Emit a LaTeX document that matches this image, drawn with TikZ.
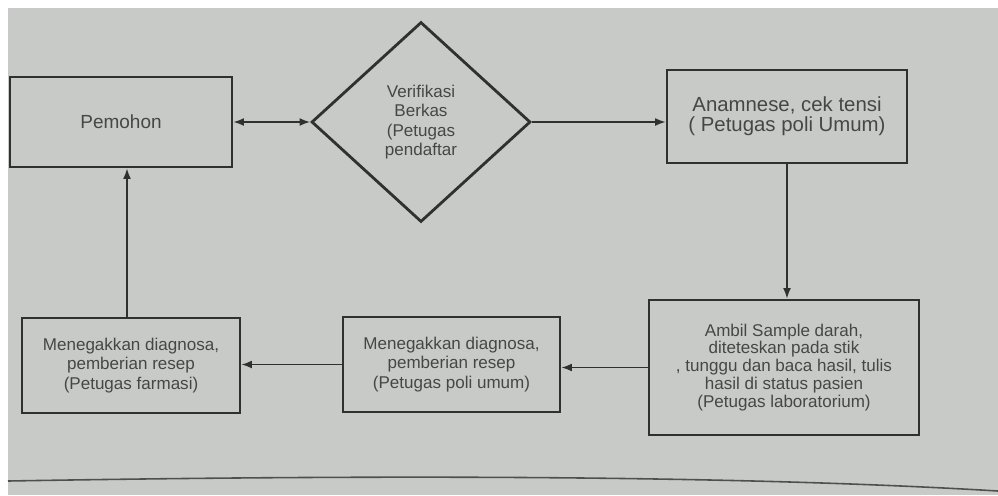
\documentclass[tikz,border=0pt]{standalone}
\usepackage{fontspec}
\setmainfont{Liberation Sans}
\usetikzlibrary{shapes.geometric,arrows.meta}
\definecolor{bg}{RGB}{200,202,200}
\definecolor{ln}{RGB}{48,48,48}
\definecolor{tx}{RGB}{70,70,70}
\begin{document}
\begin{tikzpicture}[x=0.02cm,y=-0.02cm,
  box/.style={draw=ln, line width=1.6pt, rectangle, inner sep=0pt, align=center, text=tx},
  dia/.style={draw=ln, line width=1.6pt, diamond, inner sep=0pt, align=center, text=tx},
  con/.style={draw=ln, line width=0.9pt, -{Latex[length=6pt,width=4.5pt]}},
  bicon/.style={draw=ln, line width=0.9pt, {Latex[length=6pt,width=4.5pt]}-{Latex[length=6pt,width=4.5pt]}},
  small/.style={font=\fontsize{9.7}{10.9}\selectfont},
]
\useasboundingbox (0,0) rectangle (998,495);
\fill[white] (0,0) rectangle (998,495);
\fill[bg] (8,8) rectangle (998,495);
\draw[ln!85, line width=0.9pt] (8,481) .. controls (300,476) and (700,473) .. (998,491);

\node[box, minimum width=4.44cm, minimum height=1.8cm, font=\fontsize{10.8}{12}\selectfont] (pem) at (121,122) {Pemohon};
\node[dia, minimum width=4.38cm, minimum height=4.0cm, font=\fontsize{9.7}{11}\selectfont] (ver) at (421,122) {Verifikasi\\Berkas\\(Petugas\\pendaftar};
\node[box, minimum width=4.8cm, minimum height=1.86cm, font=\fontsize{11.6}{11.6}\selectfont] (ana) at (787,116.5) {Anamnese, cek tensi\\( Petugas poli Umum)};
\node[box, minimum width=5.4cm, minimum height=2.7cm, font=\fontsize{9.7}{10.2}\selectfont] (amb) at (784,367.5) {Ambil Sample darah,\\diteteskan pada stik\\, tunggu dan baca hasil, tulis\\hasil di status pasien\\(Petugas laboratorium)};
\node[box, small, minimum width=4.34cm, minimum height=1.9cm] (mid) at (451.5,364.5) {Menegakkan diagnosa,\\pemberian resep\\(Petugas poli umum)};
\node[box, small, minimum width=4.36cm, minimum height=1.9cm] (lft) at (131,365.5) {Menegakkan diagnosa,\\pemberian resep\\(Petugas farmasi)};

\draw[bicon] (pem.east) -- (ver.west);
\draw[con] (ver.east) -- (ver.east -| ana.west);
\draw[con] (ana.south) -- (ana.south |- amb.north);
\draw[con] (amb.west) -- (amb.west -| mid.east);
\draw[con] (mid.west) -- (mid.west -| lft.east);
\draw[con] ([xshift=-0.08cm]lft.north) -- ([xshift=-0.08cm]lft.north |- pem.south);
\end{tikzpicture}
\end{document}
